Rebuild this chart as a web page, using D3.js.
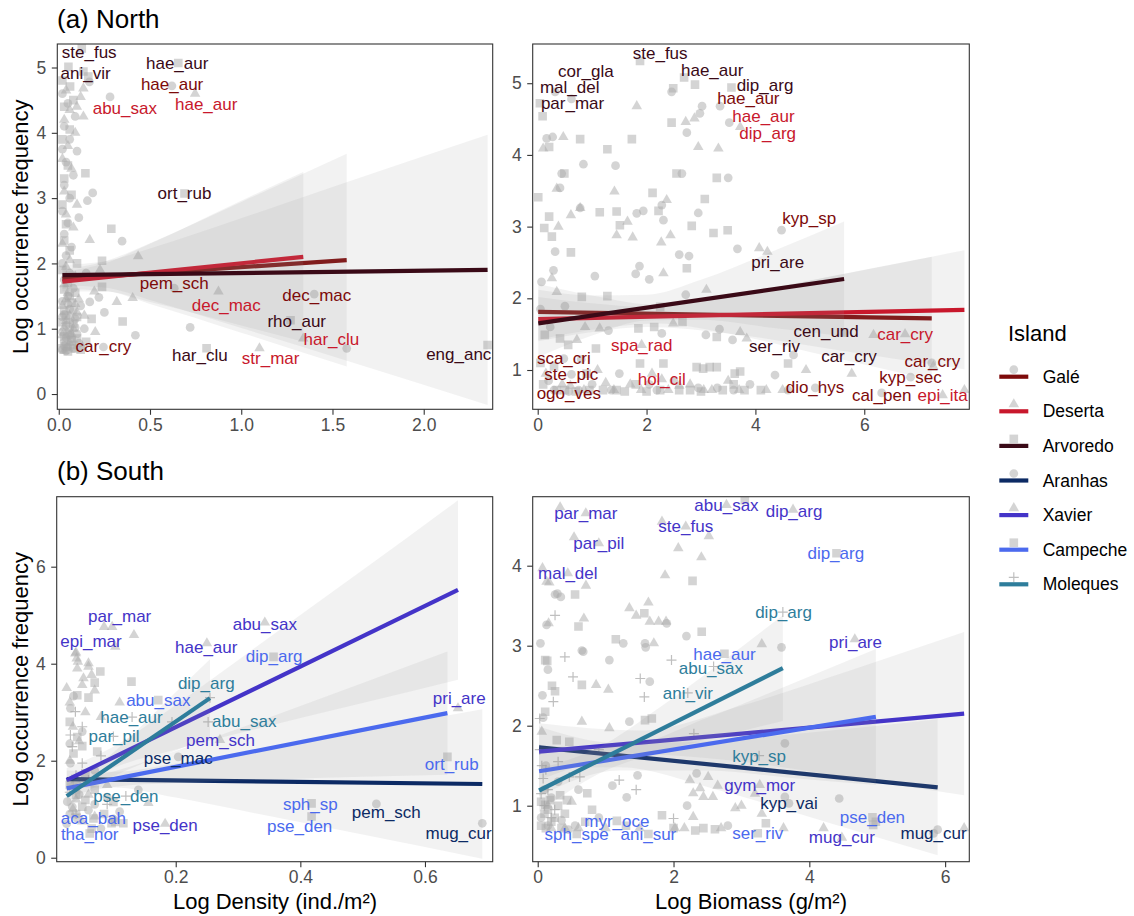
<!DOCTYPE html>
<html>
<head>
<meta charset="utf-8">
<script src="https://cdn.jsdelivr.net/npm/d3@7"></script>
<style>
  body { margin: 0; background: #ffffff; }
  svg { display: block; }
</style>
</head>
<body>
<svg id="chart" width="1134" height="916"></svg>
<script>
// ---------- islands ----------
const islands = ["Galé", "Deserta", "Arvoredo", "Aranhas", "Xavier", "Campeche", "Moleques"];
const islandColors = ["#7d0a0a", "#c8182c", "#3a0a17", "#0c2a64", "#4434c8", "#4b6aee", "#2e7d9b"];
const islandShapes = ["circle", "triangle", "square", "circle", "triangle", "square", "plus"];

// ---------- axis ranges and ticks ----------
const northDensityX = [-0.008, 2.378], northDensityY = [-0.234, 5.36];
const northBiomassX = [-0.092, 7.93], northBiomassY = [0.452, 5.547];
const southDensityX = [0.009, 0.7087], southDensityY = [-0.082, 7.443];
const southBiomassX = [-0.074, 6.356], southBiomassY = [0.30, 4.8625];

const northDensityXTicks = [0, 0.5, 1, 1.5, 2], northDensityYTicks = [0, 1, 2, 3, 4, 5];
const northBiomassXTicks = [0, 2, 4, 6], northBiomassYTicks = [1, 2, 3, 4, 5];
const southDensityXTicks = [0.2, 0.4, 0.6], southDensityYTicks = [0, 2, 4, 6];
const southBiomassXTicks = [0, 2, 4, 6], southBiomassYTicks = [1, 2, 3, 4];

// ---------- North, density ----------
const northDensityPoints = [
  ["Galé",0.02,0.68],["Galé",0.05,0.72],["Galé",0.03,0.8],["Galé",0.07,0.85],["Galé",0.02,0.95],["Galé",0.04,1.05],
  ["Galé",0.09,1.15],["Galé",0.03,1.22],["Galé",0.06,1.3],["Galé",0.02,1.42],["Galé",0.05,1.5],["Galé",0.08,1.62],
  ["Galé",0.03,1.75],["Galé",0.06,1.85],["Galé",0.02,2.0],["Galé",0.04,2.12],["Galé",0.07,2.25],["Galé",0.03,2.45],
  ["Galé",0.05,2.62],["Galé",0.02,2.8],["Galé",0.06,3.0],["Galé",0.03,3.2],["Galé",0.08,3.35],["Galé",0.04,3.55],
  ["Galé",0.02,3.75],["Galé",0.06,3.9],["Galé",0.03,4.1],["Galé",0.09,4.25],["Galé",0.05,4.45],["Galé",0.02,4.6],
  ["Galé",0.12,1.35],["Galé",0.14,1.0],["Galé",0.11,2.7],["Galé",0.1,3.72],["Galé",0.62,4.72],["Galé",0.168,4.78],
  ["Galé",0.281,4.55],["Galé",0.186,3.08],["Galé",0.157,2.96],["Galé",0.347,2.34],["Galé",0.17,1.41],["Galé",0.42,0.9],
  ["Galé",0.72,1.02],["Galé",1.4,1.53],["Galé",1.578,0.7],["Galé",0.245,0.72],["Galé",0.633,1.62],["Galé",0.04,0.66],
  ["Galé",0.08,0.7],["Galé",0.11,0.78],["Galé",0.06,1.1],["Galé",0.1,0.92],["Galé",0.25,1.25],["Galé",0.15,1.85],
  ["Galé",0.22,1.48],["Galé",0.03,0.74],["Galé",0.06,0.9],["Galé",0.09,1.02],["Galé",0.02,1.18],["Galé",0.05,1.38],
  ["Galé",0.08,1.28],["Galé",0.04,0.86],
  ["Deserta",0.03,0.66],["Deserta",0.06,0.78],["Deserta",0.02,0.9],["Deserta",0.08,1.0],["Deserta",0.04,1.12],
  ["Deserta",0.1,1.25],["Deserta",0.02,1.35],["Deserta",0.05,1.55],["Deserta",0.03,1.68],["Deserta",0.09,1.8],
  ["Deserta",0.04,1.95],["Deserta",0.06,2.05],["Deserta",0.02,2.3],["Deserta",0.08,2.55],["Deserta",0.04,2.75],
  ["Deserta",0.1,2.9],["Deserta",0.03,3.1],["Deserta",0.07,3.45],["Deserta",0.02,3.6],["Deserta",0.05,3.8],
  ["Deserta",0.09,4.0],["Deserta",0.03,4.2],["Deserta",0.06,4.35],["Deserta",0.12,4.55],["Deserta",0.04,4.65],
  ["Deserta",0.14,1.2],["Deserta",0.13,0.72],["Deserta",0.747,4.6],["Deserta",0.099,4.4],["Deserta",0.135,4.25],
  ["Deserta",0.135,4.68],["Deserta",0.17,2.36],["Deserta",0.435,2.11],["Deserta",0.226,1.9],["Deserta",0.195,1.57],
  ["Deserta",0.318,1.41],["Deserta",0.405,1.47],["Deserta",0.875,1.57],["Deserta",1.1,0.7],["Deserta",1.34,0.85],
  ["Deserta",0.2,0.95],["Deserta",0.09,0.68],["Deserta",0.11,1.45],["Deserta",0.05,0.7],["Deserta",0.07,0.92],
  ["Deserta",0.03,1.02],["Deserta",0.06,1.2],["Deserta",0.09,1.38],["Deserta",0.04,1.45],
  ["Arvoredo",0.02,0.7],["Arvoredo",0.05,0.65],["Arvoredo",0.08,0.75],["Arvoredo",0.03,0.88],["Arvoredo",0.06,0.98],
  ["Arvoredo",0.02,1.1],["Arvoredo",0.04,1.2],["Arvoredo",0.07,1.4],["Arvoredo",0.03,1.6],["Arvoredo",0.05,1.7],
  ["Arvoredo",0.02,1.9],["Arvoredo",0.06,2.2],["Arvoredo",0.03,2.35],["Arvoredo",0.04,2.6],["Arvoredo",0.02,2.9],
  ["Arvoredo",0.07,3.05],["Arvoredo",0.03,3.3],["Arvoredo",0.05,3.5],["Arvoredo",0.02,3.9],["Arvoredo",0.06,4.05],
  ["Arvoredo",0.03,4.4],["Arvoredo",0.08,4.5],["Arvoredo",0.02,4.8],["Arvoredo",0.1,0.85],["Arvoredo",0.12,0.68],
  ["Arvoredo",0.09,1.55],["Arvoredo",0.1,2.0],["Arvoredo",0.126,5.29],["Arvoredo",0.053,5.01],["Arvoredo",0.135,4.94],
  ["Arvoredo",0.162,4.86],["Arvoredo",0.062,4.71],["Arvoredo",0.655,5.07],["Arvoredo",0.146,3.38],["Arvoredo",0.689,3.07],
  ["Arvoredo",0.288,2.53],["Arvoredo",0.237,2.04],["Arvoredo",0.237,1.64],["Arvoredo",0.35,1.11],["Arvoredo",0.81,0.7],
  ["Arvoredo",1.27,1.13],["Arvoredo",2.35,0.75],["Arvoredo",0.15,0.8],["Arvoredo",0.18,1.15],["Arvoredo",0.04,0.74],
  ["Arvoredo",0.07,0.82],["Arvoredo",0.05,0.92],["Arvoredo",0.08,1.08],["Arvoredo",0.03,1.28],["Arvoredo",0.06,1.5],
  ["Arvoredo",0.1,1.18]
];
const northDensityLabels = [
  ["Arvoredo","ste_fus",0.167,5.23],["Arvoredo","ani_vir",0.147,4.92],["Arvoredo","hae_aur",0.649,5.07],
  ["Galé","hae_aur",0.621,4.75],["Deserta","hae_aur",0.808,4.44],["Deserta","abu_sax",0.362,4.38],
  ["Arvoredo","ort_rub",0.689,3.07],["Galé","pem_sch",0.633,1.70],["Deserta","dec_mac",0.918,1.36],
  ["Galé","dec_mac",1.414,1.51],["Arvoredo","rho_aur",1.304,1.12],["Deserta","har_clu",1.494,0.84],
  ["Galé","car_cry",0.245,0.74],["Arvoredo","har_clu",0.773,0.60],["Deserta","str_mar",1.161,0.55],
  ["Arvoredo","eng_anc",2.192,0.61]
];
// fitted lines: island, x start, y start, x end, y end
const northDensityFits = [
  ["Galé",0.02,1.76,1.578,2.05],["Deserta",0.02,1.72,1.34,2.10],["Arvoredo",0.02,1.82,2.35,1.90]
];
// confidence ribbons: island, [x, lower, upper]
const northDensityBands = [
  ["Galé",[[0.02,1.61,1.91],[0.25,1.58,2.03],[0.5,1.38,2.31],[1.0,0.94,2.94],[1.578,0.42,3.68]]],
  ["Deserta",[[0.02,1.57,1.87],[0.25,1.57,2.0],[0.5,1.41,2.30],[1.0,1.05,2.96],[1.34,0.80,3.40]]],
  ["Arvoredo",[[0.02,1.66,1.98],[0.25,1.63,2.03],[0.5,1.44,2.23],[1.0,1.01,2.69],[1.5,0.58,3.17],[2.35,-0.17,3.97]]]
];

// ---------- North, biomass ----------
const northBiomassPoints = [
  ["Arvoredo",1.88,5.31],["Arvoredo",2.69,5.08],["Arvoredo",2.89,4.98],["Arvoredo",2.49,4.93],["Arvoredo",3.56,4.94],
  ["Arvoredo",0.04,4.72],["Arvoredo",0.09,4.54],["Arvoredo",2.46,4.45],["Arvoredo",0.78,4.22],["Arvoredo",0.21,4.11],
  ["Arvoredo",1.28,4.08],["Arvoredo",1.73,4.22],["Arvoredo",0.49,3.74],["Arvoredo",2.55,3.74],["Arvoredo",3.29,3.68],
  ["Arvoredo",2.11,3.47],["Arvoredo",0.01,3.41],["Arvoredo",3.07,3.385],["Arvoredo",0.21,3.14],["Arvoredo",1.14,3.20],
  ["Arvoredo",1.45,3.21],["Arvoredo",2.22,3.22],["Arvoredo",0.12,2.98],["Arvoredo",0.26,2.86],["Arvoredo",1.51,3.02],
  ["Arvoredo",2.83,3.01],["Arvoredo",3.23,2.91],["Arvoredo",3.49,2.95],["Arvoredo",0.61,2.64],["Arvoredo",2.74,2.42],
  ["Arvoredo",0.81,2.02],["Arvoredo",1.28,2.03],["Arvoredo",2.25,1.88],["Arvoredo",1.85,1.58],["Arvoredo",2.14,1.60],
  ["Arvoredo",2.66,1.67],["Arvoredo",3.29,1.46],["Arvoredo",0.13,1.49],["Arvoredo",0.41,1.44],["Arvoredo",0.56,1.35],
  ["Arvoredo",1.07,1.30],["Arvoredo",4.60,1.09],["Arvoredo",5.63,1.52],["Arvoredo",1.88,1.09],["Arvoredo",2.31,1.09],
  ["Arvoredo",2.92,1.04],["Arvoredo",3.04,1.02],["Arvoredo",3.16,1.04],["Arvoredo",3.29,1.04],["Arvoredo",3.62,0.95],
  ["Arvoredo",3.72,0.98],["Arvoredo",0.1,0.8],["Arvoredo",0.35,0.72],["Arvoredo",0.7,0.7],["Arvoredo",1.2,0.72],
  ["Arvoredo",1.6,0.7],["Arvoredo",2.0,0.7],["Arvoredo",2.6,0.72],["Arvoredo",3.0,0.7],["Arvoredo",3.8,0.72],
  ["Arvoredo",0.05,1.1],["Arvoredo",0.3,1.05],["Arvoredo",0.9,0.95],["Arvoredo",4.1,0.72],["Arvoredo",0.5,0.72],
  ["Arvoredo",0.95,0.72],["Arvoredo",1.45,0.72],["Arvoredo",1.8,0.8],["Arvoredo",2.25,0.72],["Arvoredo",2.8,0.72],
  ["Arvoredo",3.4,0.72],["Arvoredo",3.6,0.8],
  ["Galé",2.46,4.88],["Galé",0.62,4.78],["Galé",0.32,4.88],["Galé",3.02,4.68],["Galé",2.98,4.58],["Galé",3.35,4.68],
  ["Galé",3.52,4.45],["Galé",2.74,4.31],["Galé",0.165,4.23],["Galé",0.275,4.25],["Galé",0.84,3.87],["Galé",1.43,3.85],
  ["Galé",0.44,3.74],["Galé",2.65,3.74],["Galé",3.50,3.68],["Galé",0.41,3.54],["Galé",2.95,3.19],["Galé",2.28,3.30],
  ["Galé",0.78,3.26],["Galé",1.94,3.22],["Galé",1.82,3.185],["Galé",2.31,3.09],["Galé",4.48,2.95],["Galé",0.32,2.65],
  ["Galé",2.60,2.61],["Galé",2.78,2.59],["Galé",3.67,2.69],["Galé",1.87,2.45],["Galé",1.80,2.34],["Galé",2.05,2.265],
  ["Galé",1.05,2.31],["Galé",0.29,2.39],["Galé",0.07,2.23],["Galé",2.72,2.05],["Galé",0.50,1.89],["Galé",0.23,1.60],
  ["Galé",2.28,1.51],["Galé",3.09,1.49],["Galé",3.34,1.57],["Galé",3.58,1.42],["Galé",4.70,1.21],["Galé",4.36,0.93],
  ["Galé",2.19,0.72],["Galé",7.24,1.10],["Galé",6.32,0.68],["Galé",6.85,0.9],["Galé",5.1,0.75],["Galé",0.48,1.16],
  ["Galé",0.62,0.94],["Galé",0.57,0.7],["Galé",0.2,0.85],["Galé",1.0,0.8],["Galé",1.5,0.95],["Galé",2.5,0.85],
  ["Galé",3.3,0.75],["Galé",3.9,0.8],["Galé",0.8,1.15],["Galé",1.3,1.55],["Galé",0.05,1.85],["Galé",0.3,0.72],
  ["Galé",0.75,0.72],["Galé",1.35,0.72],["Galé",2.05,0.8],["Galé",2.95,0.75],["Galé",3.6,0.72],["Galé",4.6,0.72],
  ["Deserta",1.82,4.68],["Deserta",2.88,4.51],["Deserta",2.72,4.46],["Deserta",3.72,4.39],["Deserta",2.95,4.11],
  ["Deserta",3.32,4.09],["Deserta",0.47,4.25],["Deserta",0.10,4.09],["Deserta",0.35,3.53],["Deserta",1.41,3.49],
  ["Deserta",2.37,3.37],["Deserta",0.61,3.16],["Deserta",0.78,3.26],["Deserta",0.38,3.00],["Deserta",1.65,3.07],
  ["Deserta",1.45,2.88],["Deserta",1.745,2.85],["Deserta",2.44,2.88],["Deserta",2.27,2.78],["Deserta",4.07,2.70],
  ["Deserta",4.22,2.65],["Deserta",2.31,2.35],["Deserta",0.26,2.28],["Deserta",0.35,2.09],["Deserta",3.10,2.12],
  ["Deserta",2.49,1.65],["Deserta",0.87,1.60],["Deserta",1.14,1.58],["Deserta",3.72,1.53],["Deserta",3.84,1.44],
  ["Deserta",0.72,1.42],["Deserta",4.93,1.00],["Deserta",5.77,0.95],["Deserta",6.17,1.49],["Deserta",7.27,1.05],
  ["Deserta",7.84,0.72],["Deserta",0.15,0.95],["Deserta",0.45,0.8],["Deserta",0.85,0.72],["Deserta",1.1,1.0],
  ["Deserta",1.4,0.72],["Deserta",1.7,0.8],["Deserta",2.1,0.95],["Deserta",2.4,0.72],["Deserta",2.8,0.8],
  ["Deserta",3.2,0.72],["Deserta",3.5,0.85],["Deserta",4.5,0.72],["Deserta",1.91,1.35],["Deserta",2.28,0.87],
  ["Deserta",6.75,1.5],["Deserta",7.44,0.65],["Deserta",0.6,0.78],["Deserta",1.25,0.82],["Deserta",1.9,0.72],
  ["Deserta",2.6,0.78],["Deserta",3.05,0.72],["Deserta",3.7,0.72],["Deserta",4.2,0.72]
];
const northBiomassLabels = [
  ["Arvoredo","ste_fus",2.25,5.42],["Arvoredo","cor_gla",0.884,5.17],["Arvoredo","mal_del",0.588,4.94],
  ["Arvoredo","par_mar",0.64,4.73],["Arvoredo","hae_aur",3.206,5.18],["Arvoredo","dip_arg",4.176,4.975],
  ["Galé","hae_aur",3.87,4.79],["Deserta","hae_aur",4.148,4.54],["Deserta","dip_arg",4.226,4.31],
  ["Galé","kyp_sp",4.99,3.12],["Arvoredo","pri_are",4.41,2.51],["Arvoredo","cen_und",5.30,1.55],
  ["Deserta","car_cry",6.75,1.50],["Deserta","spa_rad",1.91,1.35],["Arvoredo","ser_riv",4.35,1.335],
  ["Arvoredo","car_cry",5.72,1.195],["Galé","car_cry",7.25,1.125],["Galé","sca_cri",0.48,1.163],
  ["Galé","ste_pic",0.617,0.94],["Galé","ogo_ves",0.571,0.683],["Deserta","hol_cil",2.28,0.87],
  ["Galé","dio_hys",5.095,0.767],["Galé","kyp_sec",6.85,0.907],["Galé","cal_pen",6.32,0.65],
  ["Deserta","epi_ita",7.44,0.65]
];
const northBiomassFits = [
  ["Galé",0.01,1.81,7.24,1.72],["Deserta",0.01,1.71,7.84,1.84],["Arvoredo",0.01,1.65,5.63,2.27]
];
const northBiomassBands = [
  ["Galé",[[0.01,1.42,2.20],[1,1.56,2.04],[2.2,1.65,1.91],[3.5,1.51,2.03],[5,1.25,2.25],[7.24,0.86,2.58]]],
  ["Deserta",[[0.01,1.40,2.02],[1,1.53,1.93],[2,1.60,1.88],[3.5,1.51,2.03],[5.5,1.28,2.32],[7.84,1.01,2.67]]],
  ["Arvoredo",[[0.01,1.18,2.12],[1,1.48,2.04],[2,1.69,2.05],[3,1.70,2.26],[4.3,1.59,2.65],[5.63,1.47,3.07]]]
];

// ---------- South, density ----------
const southDensityPoints = [
  ["Xavier",0.085,4.76],["Xavier",0.098,4.76],["Xavier",0.133,4.59],["Xavier",0.039,4.21],["Xavier",0.043,4.04],
  ["Xavier",0.042,3.90],["Xavier",0.060,3.94],["Xavier",0.052,3.70],["Xavier",0.065,3.77],["Xavier",0.05,3.56],
  ["Xavier",0.07,3.45],["Xavier",0.343,4.85],["Xavier",0.250,4.42],["Xavier",0.103,4.35],["Xavier",0.04,4.23],
  ["Xavier",0.041,4.11],["Xavier",0.06,4.01],["Xavier",0.271,2.43],["Xavier",0.156,1.13],["Xavier",0.653,3.08],
  ["Xavier",0.03,3.2],["Xavier",0.055,3.0],["Xavier",0.035,2.7],["Xavier",0.045,2.4],["Xavier",0.03,2.0],
  ["Xavier",0.04,1.6],["Xavier",0.06,1.3],["Xavier",0.035,1.0],["Xavier",0.05,0.75],["Xavier",0.183,0.7],
  ["Xavier",0.08,2.9],["Xavier",0.11,3.2],["Xavier",0.025,3.5],["Xavier",0.07,0.85],["Xavier",0.04,1.2],
  ["Xavier",0.09,1.5],
  ["Campeche",0.079,3.84],["Campeche",0.129,3.63],["Campeche",0.070,3.61],["Campeche",0.042,2.49],["Campeche",0.036,2.15],
  ["Campeche",0.074,2.19],["Campeche",0.055,1.74],["Campeche",0.055,1.19],["Campeche",0.103,0.74],["Campeche",0.097,0.71],
  ["Campeche",0.116,0.71],["Campeche",0.357,4.14],["Campeche",0.636,2.08],["Campeche",0.418,1.12],["Campeche",0.418,0.85],
  ["Campeche",0.042,3.35],["Campeche",0.06,3.3],["Campeche",0.03,2.8],["Campeche",0.05,2.3],["Campeche",0.03,1.5],
  ["Campeche",0.07,1.4],["Campeche",0.04,0.9],["Campeche",0.065,0.6],["Campeche",0.172,3.25],["Campeche",0.068,0.81],
  ["Campeche",0.062,0.5],["Campeche",0.05,1.05],["Campeche",0.085,0.9],["Campeche",0.04,1.3],["Campeche",0.1,1.15],
  ["Aranhas",0.036,3.33],["Aranhas",0.031,3.08],["Aranhas",0.031,1.95],["Aranhas",0.026,1.155],["Aranhas",0.034,1.05],
  ["Aranhas",0.06,0.98],["Aranhas",0.042,0.81],["Aranhas",0.204,2.08],["Aranhas",0.522,1.11],["Aranhas",0.692,0.71],
  ["Aranhas",0.05,2.6],["Aranhas",0.03,2.35],["Aranhas",0.07,1.8],["Aranhas",0.04,1.45],["Aranhas",0.09,1.25],
  ["Aranhas",0.025,0.7],["Aranhas",0.11,0.95],["Aranhas",0.08,0.6],["Aranhas",0.14,1.4],["Aranhas",0.045,1.3],
  ["Aranhas",0.07,1.1],["Aranhas",0.1,0.8],["Aranhas",0.03,0.9],
  ["Moleques",0.039,3.01],["Moleques",0.031,2.53],["Moleques",0.034,2.29],["Moleques",0.05,1.95],["Moleques",0.194,2.80],
  ["Moleques",0.252,2.80],["Moleques",0.255,3.30],["Moleques",0.04,1.7],["Moleques",0.03,1.35],["Moleques",0.06,1.6],
  ["Moleques",0.08,2.1],["Moleques",0.05,2.7],["Moleques",0.13,2.9],["Moleques",0.1,2.5],["Moleques",0.12,1.27],
  ["Moleques",0.09,1.1],["Moleques",0.04,0.9]
];
const southDensityLabels = [
  ["Xavier","par_mar",0.110,4.99],["Xavier","epi_mar",0.064,4.47],["Xavier","abu_sax",0.343,4.82],
  ["Xavier","hae_aur",0.249,4.34],["Campeche","dip_arg",0.358,4.16],["Moleques","dip_arg",0.249,3.61],
  ["Campeche","abu_sax",0.172,3.25],["Moleques","hae_aur",0.129,2.91],["Moleques","abu_sax",0.310,2.82],
  ["Moleques","par_pil",0.101,2.51],["Xavier","pem_sch",0.272,2.43],["Xavier","pri_are",0.655,3.29],
  ["Aranhas","pse_mac",0.204,2.05],["Campeche","ort_rub",0.643,1.93],["Moleques","pse_den",0.120,1.27],
  ["Campeche","sph_sp",0.416,1.10],["Aranhas","pem_sch",0.538,0.95],["Campeche","aca_bah",0.068,0.81],
  ["Campeche","tha_nor",0.062,0.48],["Xavier","pse_den",0.183,0.67],["Campeche","pse_den",0.399,0.66],
  ["Aranhas","mug_cur",0.654,0.50]
];
const southDensityFits = [
  ["Aranhas",0.025,1.62,0.692,1.52],["Xavier",0.025,1.60,0.653,5.52],
  ["Campeche",0.025,1.43,0.636,2.98],["Moleques",0.025,1.27,0.255,3.29]
];
const southDensityBands = [
  ["Aranhas",[[0.025,1.44,1.80],[0.1,1.45,1.77],[0.2,1.24,1.94],[0.35,0.86,2.28],[0.5,0.48,2.62],[0.692,-0.02,3.06]]],
  ["Xavier",[[0.025,1.36,1.85],[0.1,1.85,2.29],[0.2,2.23,3.15],[0.35,2.72,4.54],[0.5,3.19,5.93],[0.653,3.67,7.37]]],
  ["Campeche",[[0.025,1.26,1.60],[0.1,1.46,1.78],[0.2,1.54,2.20],[0.35,1.61,2.89],[0.5,1.67,3.60],[0.636,1.71,4.25]]],
  ["Moleques",[[0.025,1.03,1.51],[0.08,1.54,1.96],[0.15,1.96,2.78],[0.2,2.21,3.41],[0.255,2.49,4.09]]]
];

// ---------- South, biomass ----------
const southBiomassPoints = [
  ["Xavier",0.13,3.80],["Xavier",0.68,3.34],["Xavier",1.35,3.47],["Xavier",1.65,3.30],["Xavier",1.78,3.30],
  ["Xavier",1.89,3.30],["Xavier",1.63,3.54],["Xavier",1.71,3.03],["Xavier",1.875,3.88],["Xavier",0.86,2.51],
  ["Xavier",1.04,2.45],["Xavier",0.65,2.05],["Xavier",1.055,1.97],["Xavier",0.06,1.925],["Xavier",0.50,1.05],
  ["Xavier",2.39,1.22],["Xavier",2.29,1.155],["Xavier",2.44,1.11],["Xavier",2.58,1.11],["Xavier",2.24,1.32],
  ["Xavier",2.51,1.36],["Xavier",2.91,0.97],["Xavier",2.29,0.86],["Xavier",2.16,0.72],["Xavier",2.02,0.72],
  ["Xavier",4.21,0.72],["Xavier",3.62,0.72],["Xavier",6.28,0.72],["Xavier",0.33,4.73],["Xavier",0.535,4.355],
  ["Xavier",1.83,4.55],["Xavier",3.76,4.70],["Xavier",2.52,4.37],["Xavier",2.07,4.22],["Xavier",2.41,4.105],
  ["Xavier",0.07,3.97],["Xavier",0.17,3.79],["Xavier",0.71,3.75],["Xavier",0.16,3.28],["Xavier",3.30,3.02],
  ["Xavier",4.67,3.08],["Xavier",2.78,4.76],["Xavier",3.27,1.26],["Xavier",4.48,0.6],["Xavier",0.9,4.28],
  ["Xavier",2.18,4.49],["Xavier",0.708,4.655],["Xavier",0.443,3.905],["Xavier",1.45,3.375],["Xavier",3.0,1.0],
  ["Xavier",3.3,0.9],["Xavier",1.5,0.72],["Xavier",1.0,0.72],["Xavier",0.4,0.72],["Xavier",2.7,0.72],
  ["Xavier",3.2,1.15],["Xavier",2.65,1.25],["Xavier",0.2,0.72],["Xavier",0.6,0.72],["Xavier",0.15,1.0],
  ["Campeche",0.55,3.64],["Campeche",0.60,3.24],["Campeche",1.15,3.08],["Campeche",1.57,3.405],["Campeche",2.415,3.175],
  ["Campeche",2.28,3.81],["Campeche",0.11,2.82],["Campeche",0.65,2.51],["Campeche",0.21,2.50],["Campeche",0.255,2.43],
  ["Campeche",0.11,2.175],["Campeche",1.58,2.07],["Campeche",1.68,2.09],["Campeche",0.28,1.82],["Campeche",0.465,1.80],
  ["Campeche",0.73,1.155],["Campeche",0.33,1.13],["Campeche",0.18,1.07],["Campeche",0.11,1.01],["Campeche",0.43,1.07],
  ["Campeche",1.83,0.88],["Campeche",2.32,0.69],["Campeche",2.44,0.72],["Campeche",2.61,0.705],["Campeche",3.36,0.78],
  ["Campeche",4.94,0.76],["Campeche",4.98,0.80],["Campeche",3.05,4.82],["Campeche",4.40,4.155],["Campeche",2.75,2.90],
  ["Campeche",0.14,2.81],["Campeche",4.93,0.855],["Campeche",1.165,0.81],["Campeche",0.574,0.646],["Campeche",1.63,0.646],
  ["Campeche",3.24,0.655],["Campeche",0.05,0.75],["Campeche",0.2,0.8],["Campeche",0.35,0.72],["Campeche",0.7,0.8],
  ["Campeche",1.3,0.75],["Campeche",2.0,0.72],["Campeche",0.8,0.95],["Campeche",0.1,0.9],["Campeche",0.05,1.05],
  ["Campeche",0.15,0.95],["Campeche",0.25,0.85],["Campeche",0.4,0.9],["Campeche",0.12,0.72],["Campeche",0.3,1.0],
  ["Aranhas",0.255,3.64],["Aranhas",0.13,3.26],["Aranhas",0.04,3.03],["Aranhas",1.26,3.03],["Aranhas",1.58,3.03],
  ["Aranhas",2.19,3.12],["Aranhas",0.65,2.94],["Aranhas",1.055,2.82],["Aranhas",1.65,2.55],["Aranhas",3.59,2.98],
  ["Aranhas",0.07,2.38],["Aranhas",1.35,2.05],["Aranhas",3.64,1.78],["Aranhas",1.47,1.38],["Aranhas",1.31,1.105],
  ["Aranhas",2.34,1.405],["Aranhas",3.64,1.11],["Aranhas",4.44,1.09],["Aranhas",5.89,0.70],["Aranhas",0.29,3.65],
  ["Aranhas",0.34,3.61],["Aranhas",0.67,2.925],["Aranhas",0.15,2.70],["Aranhas",1.90,3.28],["Aranhas",1.59,2.98],
  ["Aranhas",3.70,1.03],["Aranhas",5.83,0.655],["Aranhas",0.12,1.5],["Aranhas",0.3,1.3],["Aranhas",0.6,1.2],
  ["Aranhas",0.15,0.75],["Aranhas",0.45,0.7],["Aranhas",0.9,0.85],["Aranhas",2.8,0.75],["Aranhas",2.2,1.0],
  ["Aranhas",1.1,1.25],["Aranhas",0.08,2.1],["Aranhas",0.05,0.85],["Aranhas",0.2,1.1],["Aranhas",0.35,0.82],
  ["Aranhas",0.1,1.2],["Aranhas",0.55,0.75],
  ["Moleques",0.255,3.38],["Moleques",0.40,2.86],["Moleques",0.52,2.61],["Moleques",1.51,2.59],["Moleques",1.57,2.36],
  ["Moleques",1.97,2.82],["Moleques",0.23,2.30],["Moleques",0.03,2.09],["Moleques",0.08,1.34],["Moleques",0.465,1.36],
  ["Moleques",0.62,1.36],["Moleques",1.20,1.32],["Moleques",1.45,1.20],["Moleques",2.00,0.84],["Moleques",3.61,3.42],
  ["Moleques",2.59,2.74],["Moleques",2.21,2.41],["Moleques",3.26,1.625],["Moleques",0.03,1.7],["Moleques",0.06,1.5],
  ["Moleques",0.15,1.2],["Moleques",0.1,1.0],["Moleques",0.2,0.85],["Moleques",0.3,1.55],["Moleques",0.9,1.7],
  ["Moleques",2.3,1.9],["Moleques",0.05,1.15],["Moleques",0.12,1.45],["Moleques",0.25,0.95]
];
const southBiomassLabels = [
  ["Xavier","par_mar",0.708,4.655],["Xavier","abu_sax",2.78,4.76],["Xavier","dip_arg",3.775,4.68],
  ["Xavier","ste_fus",2.18,4.49],["Xavier","par_pil",0.90,4.28],["Xavier","mal_del",0.443,3.905],
  ["Campeche","dip_arg",4.39,4.155],["Moleques","dip_arg",3.62,3.425],["Xavier","pri_are",4.68,3.05],
  ["Campeche","hae_aur",2.75,2.90],["Moleques","abu_sax",2.55,2.72],["Moleques","ani_vir",2.21,2.41],
  ["Moleques","kyp_sp",3.26,1.625],["Xavier","gym_mor",3.27,1.26],["Aranhas","kyp_vai",3.70,1.03],
  ["Campeche","pse_den",4.93,0.855],["Campeche","myr_oce",1.165,0.81],["Campeche","sph_spe",0.574,0.646],
  ["Campeche","ani_sur",1.63,0.646],["Campeche","ser_riv",3.24,0.655],["Xavier","mug_cur",4.48,0.605],
  ["Aranhas","mug_cur",5.83,0.655]
];
const southBiomassFits = [
  ["Aranhas",0.02,1.73,5.89,1.23],["Xavier",0.02,1.675,6.28,2.15],
  ["Campeche",0.02,1.43,4.98,2.11],["Moleques",0.02,1.19,3.61,2.72]
];
const southBiomassBands = [
  ["Aranhas",[[0.02,1.47,1.99],[1.2,1.48,1.78],[2.6,1.21,1.81],[4.2,0.81,1.93],[5.89,0.38,2.08]]],
  ["Xavier",[[0.02,1.32,2.03],[1.5,1.64,1.94],[3,1.55,2.25],[4.6,1.35,2.69],[6.28,1.13,3.17]]],
  ["Campeche",[[0.02,1.12,1.74],[1.2,1.44,1.74],[2.5,1.44,2.10],[3.7,1.35,2.51],[4.98,1.26,2.96]]],
  ["Moleques",[[0.02,0.92,1.46],[0.9,1.40,1.73],[1.8,1.67,2.23],[2.7,1.87,2.79],[3.61,2.06,3.38]]]
];

// ---------- drawing ----------
const FONT = '"Liberation Sans", Arial, Helvetica, sans-serif';
const colorOf = new Map(islands.map((d, i) => [d, islandColors[i]]));
const shapeOf = new Map(islands.map((d, i) => [d, islandShapes[i]]));
const svg = d3.select("#chart").attr("font-family", FONT);

const symbolTypes = { circle: d3.symbolCircle, triangle: d3.symbolTriangle, square: d3.symbolSquare };
const symbolSizes = { circle: 60, triangle: 48, square: 74 };
function markPath(shape) {
  if (shape === "plus") return "M-5,0H5M0,-5V5";
  return d3.symbol(symbolTypes[shape], symbolSizes[shape])();
}
function styleMark(sel) {
  sel.attr("fill", d => shapeOf.get(d[0]) === "plus" ? "none" : "#a9a9a9")
     .attr("fill-opacity", 0.5)
     .attr("stroke", d => shapeOf.get(d[0]) === "plus" ? "#a9a9a9" : "none")
     .attr("stroke-opacity", 0.75)
     .attr("stroke-width", 1.2);
}

const fmt1 = d3.format(".1f"), fmt0 = d3.format("d");
const panels = [
  { box: [57.3, 44, 492.7, 409.3], xd: northDensityX, yd: northDensityY, xt: northDensityXTicks, yt: northDensityYTicks,
    xf: fmt1, pts: northDensityPoints, labs: northDensityLabels, fits: northDensityFits, bands: northDensityBands },
  { box: [532.7, 44, 969.3, 409.3], xd: northBiomassX, yd: northBiomassY, xt: northBiomassXTicks, yt: northBiomassYTicks,
    xf: fmt0, pts: northBiomassPoints, labs: northBiomassLabels, fits: northBiomassFits, bands: northBiomassBands },
  { box: [56.7, 496.7, 492.7, 861.7], xd: southDensityX, yd: southDensityY, xt: southDensityXTicks, yt: southDensityYTicks,
    xf: fmt1, pts: southDensityPoints, labs: southDensityLabels, fits: southDensityFits, bands: southDensityBands },
  { box: [532.7, 496.7, 969.3, 861.7], xd: southBiomassX, yd: southBiomassY, xt: southBiomassXTicks, yt: southBiomassYTicks,
    xf: fmt0, pts: southBiomassPoints, labs: southBiomassLabels, fits: southBiomassFits, bands: southBiomassBands }
];

const defs = svg.append("defs");
panels.forEach((p, i) => {
  const [x0, y0, x1, y1] = p.box;
  const x = d3.scaleLinear().domain(p.xd).range([x0, x1]);
  const y = d3.scaleLinear().domain(p.yd).range([y1, y0]);
  defs.append("clipPath").attr("id", "panel-clip-" + i)
    .append("rect").attr("x", x0).attr("y", y0).attr("width", x1 - x0).attr("height", y1 - y0);

  const g = svg.append("g");
  const inner = g.append("g").attr("clip-path", `url(#panel-clip-${i})`);

  // observations
  inner.selectAll("path.obs").data(p.pts).join("path").attr("class", "obs")
    .attr("transform", d => `translate(${x(d[1])},${y(d[2])})`)
    .attr("d", d => markPath(shapeOf.get(d[0])))
    .call(styleMark);

  // linear fits with confidence ribbons, drawn island by island
  const area = d3.area().x(d => x(d[0])).y0(d => y(d[1])).y1(d => y(d[2])).curve(d3.curveMonotoneX);
  p.fits.forEach(f => {
    const band = p.bands.find(b => b[0] === f[0])[1];
    inner.append("path").attr("d", area(band)).attr("fill", "#999999").attr("fill-opacity", 0.13);
    inner.append("line")
      .attr("x1", x(f[1])).attr("y1", y(f[2])).attr("x2", x(f[3])).attr("y2", y(f[4]))
      .attr("stroke", colorOf.get(f[0])).attr("stroke-width", 4.2);
  });

  // species labels
  g.selectAll("text.lab").data(p.labs).join("text").attr("class", "lab")
    .attr("x", d => x(d[2])).attr("y", d => y(d[3])).attr("dy", "0.35em")
    .attr("text-anchor", "middle").attr("font-size", 17)
    .attr("fill", d => colorOf.get(d[0])).text(d => d[1]);

  // panel border
  g.append("rect").attr("x", x0).attr("y", y0).attr("width", x1 - x0).attr("height", y1 - y0)
    .attr("fill", "none").attr("stroke", "#333333").attr("stroke-width", 1.1);

  const styleAxis = a => {
    a.select(".domain").remove();
    a.selectAll(".tick line").attr("stroke", "#333333").attr("stroke-width", 1.1);
    a.selectAll(".tick text").attr("fill", "#4d4d4d").attr("font-size", 17.5).attr("font-family", FONT);
  };
  g.append("g").attr("transform", `translate(0,${y1})`)
    .call(d3.axisBottom(x).tickValues(p.xt).tickFormat(p.xf).tickSize(5.5).tickPadding(3.5))
    .call(styleAxis);
  g.append("g").attr("transform", `translate(${x0},0)`)
    .call(d3.axisLeft(y).tickValues(p.yt).tickFormat(fmt0).tickSize(5.5).tickPadding(5.5))
    .call(styleAxis);
});

// titles
svg.append("text").attr("x", 57).attr("y", 27.5).attr("font-size", 26).attr("fill", "#000").text("(a) North");
svg.append("text").attr("x", 57).attr("y", 479.5).attr("font-size", 26).attr("fill", "#000").text("(b) South");

// axis titles
[226.7, 679.2].forEach(cy => {
  svg.append("text").attr("transform", `translate(20,${cy}) rotate(-90)`).attr("dy", "0.35em")
    .attr("text-anchor", "middle").attr("font-size", 22).attr("fill", "#000").text("Log occurrence frequency");
});
svg.append("text").attr("x", 275).attr("y", 908.5).attr("text-anchor", "middle").attr("font-size", 22)
  .attr("fill", "#000").text("Log Density (ind./m²)");
svg.append("text").attr("x", 751).attr("y", 908.5).attr("text-anchor", "middle").attr("font-size", 22)
  .attr("fill", "#000").text("Log Biomass (g/m²)");

// legend
const legend = svg.append("g");
legend.append("text").attr("x", 1008).attr("y", 340.5).attr("font-size", 22).attr("fill", "#000").text("Island");
const keys = legend.selectAll("g.key").data(islands.map(d => [d])).join("g").attr("class", "key")
  .attr("transform", (d, i) => `translate(0,${376.7 + i * 34.6})`);
keys.append("path").attr("transform", "translate(1013.8,-7)")
  .attr("d", d => markPath(shapeOf.get(d[0]))).call(styleMark);
keys.append("line").attr("x1", 999.3).attr("x2", 1028.3).attr("y1", 0).attr("y2", 0)
  .attr("stroke", d => colorOf.get(d[0])).attr("stroke-width", 4.2);
keys.append("text").attr("x", 1042.7).attr("dy", "0.35em").attr("font-size", 17.5).attr("fill", "#000")
  .text(d => d[0]);
</script>
</body>
</html>
